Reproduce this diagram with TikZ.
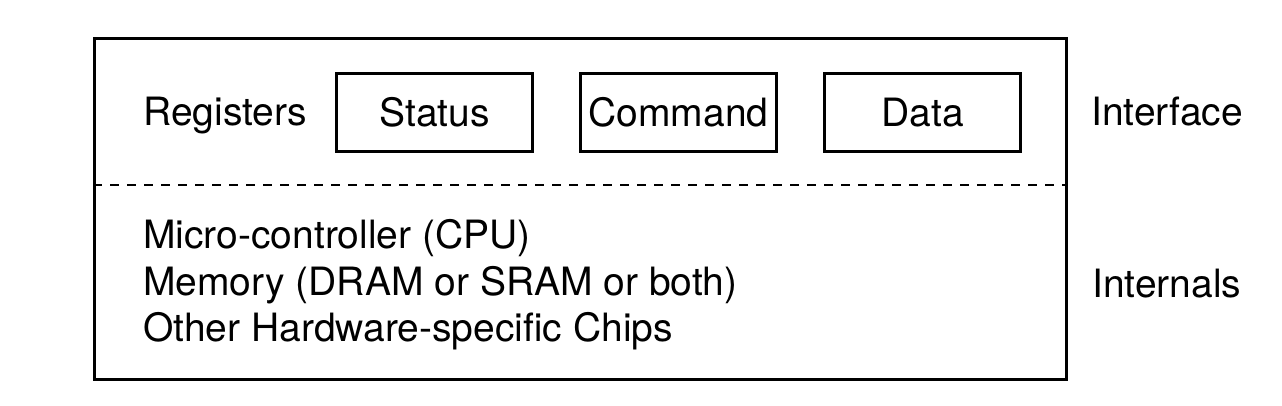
\documentclass[tikz,border=0pt]{standalone}
\usepackage{fontspec}
\setmainfont{TeX Gyre Heros}
\usetikzlibrary{positioning}

\begin{document}
\begin{tikzpicture}[x=1pt,y=-1pt,
    every node/.style={font=\fontsize{39}{47}\selectfont},
    regbox/.style={draw, line width=3pt, minimum width=196pt, minimum height=78pt, inner sep=0pt},
    lbl/.style={anchor=base west, inner sep=0pt}]
    \useasboundingbox (0,0) rectangle (1282,406);

    \node[draw, line width=3pt, minimum width=972pt, minimum height=340pt, inner sep=0pt] (card) at (580.5,209) {};
    \coordinate (split) at (0,185);
    \draw[line width=2pt, dash pattern=on 9pt off 8pt] (card.west |- split) -- (card.east |- split);

    \node[regbox] (status) at (434.5,112.5) {Status};
    \node[regbox, right=45pt of status] (command) {Command};
    \node[regbox, right=45pt of command] (data) {Data};

    \node[lbl] (registers) at (143,126) {Registers};
    \node[lbl] (interface) at (1091,126) {Interface};
    \node[lbl] (internals) at (1092,297) {Internals};

    \node[lbl] (cpu) at (143,248) {Micro-controller (CPU)};
    \node[lbl] (memory) at (143,295) {Memory (DRAM or SRAM or both)};
    \node[lbl] (chips) at (143,341) {Other Hardware-specific Chips};
\end{tikzpicture}
\end{document}
